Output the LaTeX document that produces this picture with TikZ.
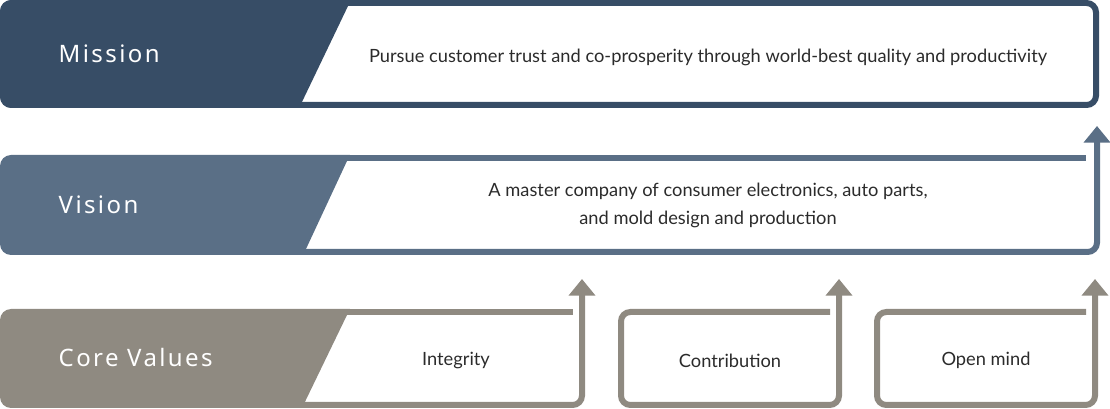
\documentclass[tikz,border=0pt]{standalone}
\usepackage{fontspec}
\setmainfont{Lato}
\newfontfamily\labelfont[LetterSpace=10]{Noto Sans}
\usetikzlibrary{arrows.meta}

\definecolor{mis}{HTML}{374D66}
\definecolor{vis}{HTML}{5A6F86}
\definecolor{core}{HTML}{8F8A81}
\definecolor{ink}{HTML}{2B2B2B}

\tikzset{
  lbl/.style={anchor=west, text=white, font=\labelfont\fontsize{18}{21}\selectfont},
  txt/.style={text=ink, align=center, font=\fontsize{13.7}{20.5}\selectfont},
  band/.style={line width=4.5pt, rounded corners=7pt},
  up/.style={-{Triangle[width=19.5pt, length=12.5pt]}}
}

\begin{document}
\begin{tikzpicture}[x=0.75pt, y=-0.75pt]
  \useasboundingbox (0,0) rectangle (1110,409);

  % Mission
  \draw[mis, band] (3,3) rectangle (1096,105);
  \begin{scope}
    \clip[rounded corners=8.25pt] (0,0) rectangle (400,108);
    \fill[mis] (0,0) -- (350.9,0) -- (299.1,108) -- (0,108) -- cycle;
  \end{scope}
  \node[lbl] (mission) at (54,54) {Mission};
  \node[txt] (missiontxt) at (708,57.5) {Pursue customer trust and co-prosperity through world-best quality and productivity};

  % Vision
  \coordinate (vend) at (1086,158);
  \coordinate (vtip) at (1097,126);
  \begin{scope}
    \clip[rounded corners=8.25pt] (0,155) rectangle (400,255);
    \fill[vis] (0,155) -- (349.8,155) -- (303.2,255) -- (0,255) -- cycle;
  \end{scope}
  \draw[vis, line width=4.5pt] (340,158) -- (vend);
  \draw[vis, band, up] (290,252) -- (1097,252) -- (vtip);
  \node[lbl] (vision) at (54,205) {Vision};
  \node[txt] (visiontxt) at (708,205.5) {A master company of consumer electronics, auto parts,\\and mold design and production};

  % Core values
  \begin{scope}
    \clip[rounded corners=8.25pt] (0,309) rectangle (400,408);
    \fill[core] (0,309) -- (349.9,309) -- (302,408) -- (0,408) -- cycle;
  \end{scope}
  \node[lbl] (core) at (54,358) {Core Values};

  \coordinate (intend) at (573,312);
  \coordinate (intip) at (582,279);
  \draw[core, line width=4.5pt] (340,312) -- (intend);
  \draw[core, band, up] (290,405) -- (582,405) -- (intip);
  \node[txt] (integrity) at (456,360.5) {Integrity};

  \foreach \x/\nm/\lab in {621/contrib/Contribution, 877/openmind/Open mind} {
    \coordinate (\nm end) at (\x+209,312);
    \coordinate (\nm tip) at (\x+218,279);
    \draw[core, band, up] (\nm end) -- (\x,312) -- (\x,405) -- (\x+218,405) -- (\nm tip);
    \node[txt] (\nm) at (\x+109,360.5) {\lab};
  }
\end{tikzpicture}
\end{document}
